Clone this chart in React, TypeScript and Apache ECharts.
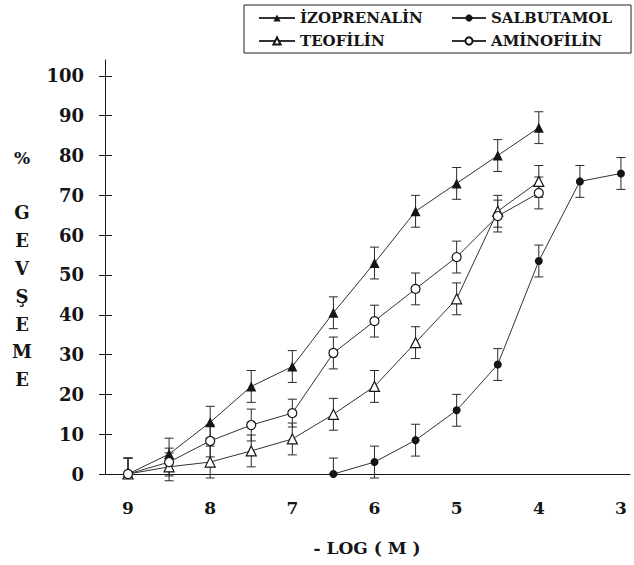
import React, { useEffect, useRef } from "react";
import * as echarts from "echarts";

// -log(M) doses
const X_TICKS = [9, 8, 7, 6, 5, 4, 3];
const Y_TICKS = [0, 10, 20, 30, 40, 50, 60, 70, 80, 90, 100];

const IZO_NAME = "İZOPRENALİN";
const SAL_NAME = "SALBUTAMOL";
const TEO_NAME = "TEOFİLİN";
const AMI_NAME = "AMİNOFİLİN";

const IZO_X = [9, 8.5, 8, 7.5, 7, 6.5, 6, 5.5, 5, 4.5, 4];
const IZO_Y = [0, 5, 13, 22, 27, 40.5, 53, 66, 73, 80, 87];
const IZO_ERR_UP = [4, 4, 4, 4, 4, 4, 4, 4, 4, 4, 4];
const IZO_ERR_DN = [0, 4, 4, 4, 4, 4, 4, 4, 4, 4, 4];

const SAL_X = [6.5, 6, 5.5, 5, 4.5, 4, 3.5, 3];
const SAL_Y = [0, 3, 8.5, 16, 27.5, 53.5, 73.5, 75.5];
const SAL_ERR_UP = [4, 4, 4, 4, 4, 4, 4, 4];
const SAL_ERR_DN = [0, 4, 4, 4, 4, 4, 4, 4];

const TEO_X = [9, 8.5, 8, 7.5, 7, 6.5, 6, 5.5, 5, 4.5, 4];
const TEO_Y = [0, 1.8, 3, 5.8, 8.8, 15, 22, 33, 44, 66, 73.5];
const TEO_ERR_UP = [4, 3.5, 4, 4, 4, 4, 4, 4, 4, 4, 4];
const TEO_ERR_DN = [0, 3.5, 4, 4, 4, 4, 4, 4, 4, 4, 4];

const AMI_X = [9, 8.5, 8, 7.5, 7, 6.5, 6, 5.5, 5, 4.5, 4];
const AMI_Y = [0, 3, 8.3, 12.3, 15.3, 30.4, 38.4, 46.5, 54.5, 64.8, 70.6];
const AMI_ERR_UP = [4, 3.5, 4, 4, 3.5, 4, 4, 4, 4, 4, 4];
const AMI_ERR_DN = [0, 3.5, 4, 4, 3.5, 4, 4, 4, 4, 4, 4];

const FONT = "'DejaVu Serif', 'Liberation Serif', serif";
const INK = "#151515";

function pts(xs: number[], ys: number[]) {
  return xs.map((x, i) => [x, ys[i]]);
}
function errs(xs: number[], ys: number[], dn: number[], up: number[]) {
  return xs.map((x, i) => [x, ys[i] - dn[i], ys[i] + up[i]]);
}

function errorSeries(name: string, data: number[][]) {
  return {
    type: "custom",
    name: name + " err",
    z: 1,
    clip: false,
    silent: true,
    encode: { x: 0, y: [1, 2] },
    data,
    renderItem: (params: any, api: any) => {
      const x = api.value(0);
      const lo = api.coord([x, api.value(1)]);
      const hi = api.coord([x, api.value(2)]);
      const w = 4.5;
      const style = { stroke: "#2a2a2a", lineWidth: 1 };
      return {
        type: "group",
        children: [
          { type: "line", shape: { x1: lo[0], y1: lo[1], x2: hi[0], y2: hi[1] }, style },
          { type: "line", shape: { x1: lo[0] - w, y1: lo[1], x2: lo[0] + w, y2: lo[1] }, style },
          { type: "line", shape: { x1: hi[0] - w, y1: hi[1], x2: hi[0] + w, y2: hi[1] }, style },
        ],
      };
    },
  };
}

function lineSeries(name: string, data: number[][], symbol: string, size: number, filled: boolean) {
  return {
    type: "line",
    name,
    data,
    z: 3,
    symbol,
    symbolSize: size,
    showAllSymbol: true,
    lineStyle: { color: "#333", width: 1 },
    itemStyle: filled
      ? { color: INK, borderColor: INK, borderWidth: 0 }
      : { color: "#fff", borderColor: INK, borderWidth: 1.2 },
  };
}

export default function App() {
  const ref = useRef<HTMLDivElement>(null);
  useEffect(() => {
    if (!ref.current) return;
    const chart = echarts.init(ref.current, null, { renderer: "svg" });
    const legendText = {
      fontFamily: FONT,
      fontWeight: "bold",
      fontSize: 15,
      color: INK,
      lineHeight: 16,
    };
    chart.setOption({
      animation: false,
      backgroundColor: "#fff",
      grid: { left: 105, right: 4, top: 60, bottom: 91, containLabel: false },
      legend: [
        {
          orient: "vertical",
          left: 253,
          top: 5,
          itemWidth: 36,
          itemHeight: 9,
          itemGap: 7,
          data: [IZO_NAME, TEO_NAME],
          textStyle: legendText,
        },
        {
          orient: "vertical",
          left: 446,
          top: 5,
          itemWidth: 34,
          itemHeight: 9,
          itemGap: 7,
          data: [SAL_NAME, AMI_NAME],
          textStyle: legendText,
        },
      ],
      xAxis: {
        type: "value",
        inverse: true,
        min: 2.89,
        max: 9.28,
        splitLine: { show: false },
        axisLine: { lineStyle: { color: INK, width: 1.2 } },
        axisTick: { show: false },
        axisLabel: {
          customValues: X_TICKS,
          margin: 25,
          fontFamily: FONT,
          fontWeight: "bold",
          fontSize: 17,
          color: INK,
        },
      },
      yAxis: [
        {
          type: "value",
          min: 0,
          max: 104,
          splitLine: { show: false },
          axisLine: { show: true, lineStyle: { color: INK, width: 1 } },
          axisTick: { show: true, customValues: Y_TICKS, length: 6, lineStyle: { color: INK } },
          axisLabel: {
            customValues: Y_TICKS,
            margin: 21,
            fontFamily: FONT,
            fontWeight: "bold",
            fontSize: 18,
            color: INK,
          },
        },
        {
          type: "value",
          position: "left",
          min: 0,
          max: 104,
          splitLine: { show: false },
          axisLine: { show: false },
          axisTick: { show: true, inside: true, customValues: Y_TICKS, length: 7, lineStyle: { color: INK } },
          axisLabel: { show: false },
        },
      ],
      graphic: [
        {
          type: "rect",
          shape: { x: 244, y: 5, width: 387, height: 48 },
          style: { fill: "none", stroke: "#222", lineWidth: 1 },
          z: 0,
        },
        {
          type: "text",
          x: 22,
          y: 158,
          style: {
            text: "%",
            fontFamily: FONT,
            fontWeight: "bold",
            fontSize: 17,
            fill: INK,
            align: "center",
            verticalAlign: "middle",
          },
        },
        {
          type: "text",
          x: 22,
          y: 199,
          style: {
            text: "G\nE\nV\nŞ\nE\nM\nE",
            fontFamily: FONT,
            fontWeight: "bold",
            fontSize: 18,
            lineHeight: 27.8,
            fill: INK,
            align: "center",
            verticalAlign: "top",
          },
        },
        {
          type: "text",
          x: 367,
          y: 548,
          style: {
            text: "- LOG ( M )",
            fontFamily: FONT,
            fontWeight: "bold",
            fontSize: 17,
            fill: INK,
            align: "center",
            verticalAlign: "middle",
          },
        },
      ],
      series: [
        errorSeries(IZO_NAME, errs(IZO_X, IZO_Y, IZO_ERR_DN, IZO_ERR_UP)),
        errorSeries(SAL_NAME, errs(SAL_X, SAL_Y, SAL_ERR_DN, SAL_ERR_UP)),
        errorSeries(TEO_NAME, errs(TEO_X, TEO_Y, TEO_ERR_DN, TEO_ERR_UP)),
        errorSeries(AMI_NAME, errs(AMI_X, AMI_Y, AMI_ERR_DN, AMI_ERR_UP)),
        lineSeries(IZO_NAME, pts(IZO_X, IZO_Y), "triangle", 10, true),
        lineSeries(SAL_NAME, pts(SAL_X, SAL_Y), "circle", 8, true),
        lineSeries(TEO_NAME, pts(TEO_X, TEO_Y), "triangle", 10, false),
        lineSeries(AMI_NAME, pts(AMI_X, AMI_Y), "circle", 9, false),
      ],
    });
    return () => chart.dispose();
  }, []);
  return (
    <div
      ref={ref}
      style={{ position: "fixed", left: 0, top: 0, width: 634, height: 565, background: "#fff" }}
    />
  );
}
